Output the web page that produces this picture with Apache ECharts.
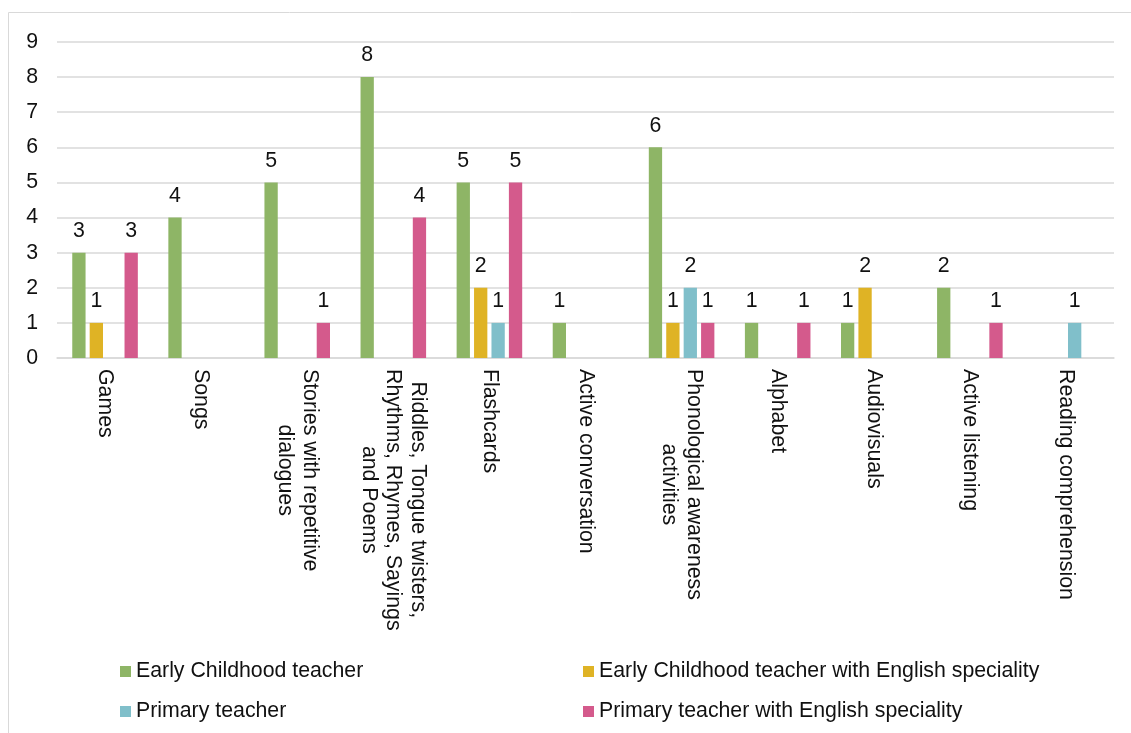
<!DOCTYPE html>
<html>
<head>
<meta charset="utf-8">
<script src="https://cdn.jsdelivr.net/npm/echarts@6/dist/echarts.min.js"></script>
<style>
  html, body { margin: 0; padding: 0; background: #fff; }
  #chart { width: 1131px; height: 733px; }
</style>
</head>
<body>
<div id="chart"></div>
<script>
// Teaching resources mentioned, by teacher profile
const categories = [
  'Games',
  'Songs',
  'Stories with repetitive\ndialogues',
  'Riddles, Tongue twisters,\nRhythms, Rhymes, Sayings\nand Poems',
  'Flashcards',
  'Active conversation',
  'Phonological awareness\nactivities',
  'Alphabet',
  'Audiovisuals',
  'Active listening',
  'Reading comprehension'
];
const earlyChildhood        = [3, 4, 5, 8, 5, 1, 6, 1, 1, 2, 0];
const earlyChildhoodEnglish = [1, 0, 0, 0, 2, 0, 1, 0, 2, 0, 0];
const primary               = [0, 0, 0, 0, 1, 0, 2, 0, 0, 0, 1];
const primaryEnglish        = [3, 0, 1, 4, 5, 0, 1, 1, 0, 1, 0];
const yTicks = [0, 1, 2, 3, 4, 5, 6, 7, 8, 9];

const seriesNames = [
  'Early Childhood teacher',
  'Early Childhood teacher with English speciality',
  'Primary teacher',
  'Primary teacher with English speciality'
];
const seriesData = [earlyChildhood, earlyChildhoodEnglish, primary, primaryEnglish];
const colors = ['#8EB566', '#DFB325', '#80BFCA', '#D45A8C'];

const FONT = 'Liberation Sans, Arial, sans-serif';
const FS = 21.3;
const TEXT = '#111';

const chart = echarts.init(document.getElementById('chart'), null, { renderer: 'canvas' });

const series = seriesNames.map((name, i) => ({
  name,
  type: 'bar',
  data: seriesData[i],
  barWidth: 13.3,
  barGap: '31%',
  itemStyle: { color: colors[i] },
  label: {
    show: true,
    position: 'top',
    distance: 11,
    fontFamily: FONT,
    fontSize: FS,
    color: TEXT,
    formatter: p => (p.value > 0 ? String(p.value) : '')
  }
}));

// legend: two columns, two rows
const legendPos = [
  { left: 120, top: 661 },
  { left: 583, top: 661 },
  { left: 120, top: 701 },
  { left: 583, top: 701 }
];
const legends = seriesNames.map((name, i) => ({
  data: [name],
  left: legendPos[i].left,
  top: legendPos[i].top,
  padding: 0,
  icon: 'rect',
  itemWidth: 11,
  itemHeight: 11,
  itemGap: 0,
  selectedMode: false,
  textStyle: { fontFamily: FONT, fontSize: FS, color: TEXT }
}));

chart.setOption({
  animation: false,
  color: colors,
  graphic: [{
    type: 'rect',
    shape: { x: 8.5, y: 12.5, width: 1140, height: 740 },
    style: { fill: 'none', stroke: '#d9d9d9', lineWidth: 1 },
    silent: true
  }],
  legend: legends,
  grid: { left: 57, right: 17, top: 42, bottom: 375 },
  xAxis: {
    type: 'category',
    data: categories,
    axisLine: { lineStyle: { color: '#d9d9d9', width: 1.5 } },
    axisTick: { show: false },
    axisLabel: {
      rotate: -90,
      margin: 11,
      interval: 0,
      fontFamily: FONT,
      fontSize: FS,
      color: TEXT,
      lineHeight: 24.5,
      formatter: v => v.split('\n').map(l => '{c|' + l + '}').join('\n'),
      rich: {
        c: { align: 'center', fontFamily: FONT, fontSize: FS, color: TEXT, lineHeight: 24.5 }
      }
    }
  },
  yAxis: {
    type: 'value',
    min: yTicks[0],
    max: yTicks[yTicks.length - 1],
    interval: 1,
    axisLine: { show: false },
    axisTick: { show: false },
    splitLine: { lineStyle: { color: '#d9d9d9', width: 1.5 } },
    axisLabel: {
      margin: 19,
      fontFamily: FONT,
      fontSize: FS,
      color: TEXT
    }
  },
  series
});
</script>
</body>
</html>
